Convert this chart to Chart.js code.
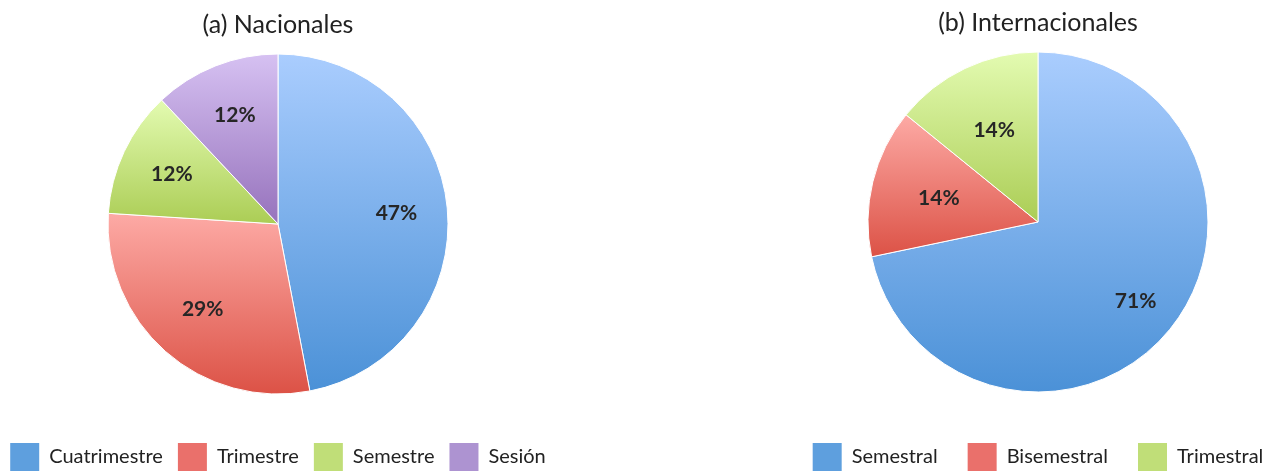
<!DOCTYPE html>
<html>
<head>
<meta charset="utf-8">
<script src="https://cdn.jsdelivr.net/npm/chart.js@4/dist/chart.umd.min.js"></script>
<style>
  body { margin: 0; background: #fff; overflow: hidden; width: 1276px; height: 471px; position: relative; }
  .box { position: absolute; top: 0; }
</style>
</head>
<body>
<div class="box" style="left:-22px"><canvas id="chart-nat" width="600" height="481"></canvas></div>
<div class="box" style="left:768px"><canvas id="chart-int" width="540" height="481"></canvas></div>
<script>
// Data (percent)
const natTitle = '(a) Nacionales';
const natCategories = ['Cuatrimestre', 'Trimestre', 'Semestre', 'Sesión'];
const natValues = [47, 29, 12, 12];

const intTitle = '(b) Internacionales';
const intCategories = ['Semestral', 'Bisemestral', 'Trimestral'];
const intValues = [71, 14, 14];

// Colours: light top / dark bottom of each slice, and flat legend swatch
const natTop = ['#aacdfe', '#fdaaa5', '#e3fbb1', '#d6c1f2'];
const natBottom = ['#4b91d7', '#dc5246', '#abcd55', '#9672bc'];
const natSwatch = ['#5e9fde', '#ea706b', '#c0de78', '#ad93d1'];
const intTop = ['#aacdfe', '#fdaaa5', '#e3fbb1'];
const intBottom = ['#4b91d7', '#dc5246', '#abcd55'];
const intSwatch = ['#5e9fde', '#ea706b', '#c0de78'];

const PIE_RADIUS = 170;
const FONT = "Lato, 'Open Sans', sans-serif";

// Vertical gradient over the bounding box of each slice
const sliceFill = (tops, bottoms) => (context) => {
  const chart = context.chart;
  const area = chart.chartArea;
  if (!area) return bottoms[context.dataIndex];
  const data = context.dataset.data;
  const total = data.reduce((a, b) => a + b, 0);
  let before = 0;
  for (let i = 0; i < context.dataIndex; i++) before += data[i];
  const a0 = -Math.PI / 2 + before / total * 2 * Math.PI;
  const a1 = a0 + data[context.dataIndex] / total * 2 * Math.PI;
  const cy = (area.top + area.bottom) / 2;
  const ys = [cy, cy + PIE_RADIUS * Math.sin(a0), cy + PIE_RADIUS * Math.sin(a1)];
  [-Math.PI / 2, Math.PI / 2, 3 * Math.PI / 2].forEach((a) => {
    if (a >= a0 && a <= a1) ys.push(cy + PIE_RADIUS * Math.sin(a));
  });
  const g = chart.ctx.createLinearGradient(0, Math.min(...ys), 0, Math.max(...ys));
  g.addColorStop(0, tops[context.dataIndex]);
  g.addColorStop(1, bottoms[context.dataIndex]);
  return g;
};

// Percent labels inside the slices
const pctLabels = {
  id: 'pctLabels',
  afterDatasetsDraw(chart, args, opts) {
    const ctx = chart.ctx;
    const meta = chart.getDatasetMeta(0);
    const values = chart.data.datasets[0].data;
    ctx.save();
    ctx.font = 'bold 21px ' + FONT;
    ctx.fillStyle = '#262626';
    ctx.textAlign = 'center';
    ctx.textBaseline = 'middle';
    meta.data.forEach((arc, i) => {
      const mid = (arc.startAngle + arc.endAngle) / 2;
      const r = arc.outerRadius * opts.pos[i];
      ctx.fillText(values[i] + '%', arc.x + r * Math.cos(mid), arc.y + r * Math.sin(mid));
    });
    ctx.restore();
  }
};

const makePie = (id, title, labels, values, tops, bottoms, swatch, gap, titleTop, legendPad, labelPos) => {
  new Chart(document.getElementById(id), {
    type: 'pie',
    data: {
      labels: labels,
      datasets: [{
        data: values,
        backgroundColor: sliceFill(tops, bottoms),
        borderColor: '#ffffff',
        borderWidth: 1,
        radius: PIE_RADIUS
      }]
    },
    options: {
      responsive: false,
      animation: false,
      events: [],
      layout: { padding: 0 },
      plugins: {
        title: {
          display: true,
          text: title,
          color: '#222',
          font: { family: FONT, size: 25, weight: 'normal' },
          padding: { top: titleTop, bottom: 10 }
        },
        legend: {
          position: 'bottom',
          title: { display: true, text: '', font: { size: 1, lineHeight: 1 }, padding: { top: 0, bottom: legendPad } },
          labels: {
            boxWidth: 29,
            boxHeight: 28,
            padding: gap,
            font: { family: FONT, size: 20 },
            generateLabels: (chart) => chart.data.labels.map((text, i) => ({
              text: text,
              fillStyle: swatch[i],
              strokeStyle: swatch[i],
              fontColor: '#222',
              lineWidth: 0,
              index: i
            }))
          }
        },
        tooltip: { enabled: false },
        pctLabels: { pos: labelPos }
      }
    },
    plugins: [pctLabels]
  });
};

makePie('chart-nat', natTitle, natCategories, natValues, natTop, natBottom, natSwatch, 15, 10, 29, [0.7, 0.67, 0.69, 0.69]);
makePie('chart-int', intTitle, intCategories, intValues, intTop, intBottom, intSwatch, 30, 8, 16, [0.74, 0.6, 0.6]);
</script>
</body>
</html>
